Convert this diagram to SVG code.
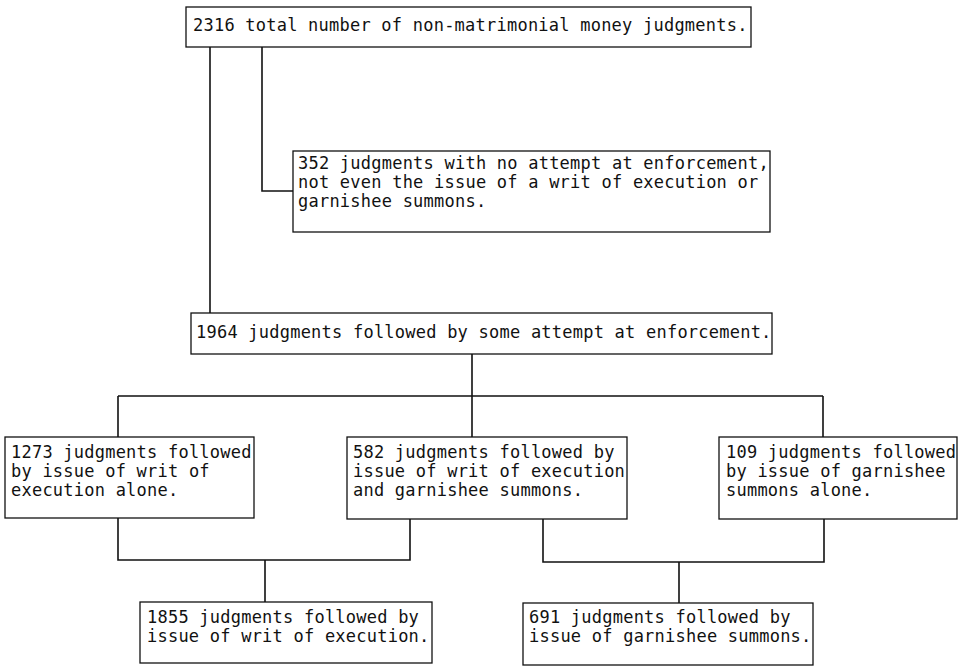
<svg xmlns="http://www.w3.org/2000/svg" width="967" height="666" viewBox="0 0 967 666">
<style>
.box{fill:#fff;stroke:#111;stroke-width:1.3}
.t{font-family:"DejaVu Sans Mono","Liberation Mono",monospace;font-size:17px;letter-spacing:0.23px;fill:#111}
.c{fill:none;stroke:#111;stroke-width:1.6}
</style>
<rect width="967" height="666" fill="#fff"/>
<g id="connectors">
<path class="c" d="M210,47V313"/>
<path class="c" d="M262,47V191H293"/>
<path class="c" d="M472,354V396M118,396H823M118,396V437M472,396V437M823,396V437"/>
<path class="c" d="M118,518V560H410V519M265,560V602"/>
<path class="c" d="M543,519V562H824V519M679,562V603"/>
</g>
<g id="n2316">
<rect class="box" x="186" y="7" width="565" height="40"/>
<text class="t" x="193" y="31">2316 total number of non-matrimonial money judgments.</text>
</g>
<g id="n352">
<rect class="box" x="293" y="151" width="477" height="81"/>
<text class="t" x="298" y="169">352 judgments with no attempt at enforcement,</text>
<text class="t" x="298" y="188">not even the issue of a writ of execution or</text>
<text class="t" x="298" y="207">garnishee summons.</text>
</g>
<g id="n1964">
<rect class="box" x="191" y="313" width="581" height="41"/>
<text class="t" x="196" y="338">1964 judgments followed by some attempt at enforcement.</text>
</g>
<g id="n1273">
<rect class="box" x="5" y="437" width="249" height="81"/>
<text class="t" x="11" y="458">1273 judgments followed</text>
<text class="t" x="11" y="477">by issue of writ of</text>
<text class="t" x="11" y="496">execution alone.</text>
</g>
<g id="n582">
<rect class="box" x="347" y="437" width="280" height="82"/>
<text class="t" x="353" y="458">582 judgments followed by</text>
<text class="t" x="353" y="477">issue of writ of execution</text>
<text class="t" x="353" y="496">and garnishee summons.</text>
</g>
<g id="n109">
<rect class="box" x="719" y="437" width="238" height="82"/>
<text class="t" x="726" y="458">109 judgments followed</text>
<text class="t" x="726" y="477">by issue of garnishee</text>
<text class="t" x="726" y="496">summons alone.</text>
</g>
<g id="n1855">
<rect class="box" x="140" y="602" width="292" height="61"/>
<text class="t" x="147" y="623">1855 judgments followed by</text>
<text class="t" x="147" y="642">issue of writ of execution.</text>
</g>
<g id="n691">
<rect class="box" x="523" y="603" width="290" height="62"/>
<text class="t" x="529" y="623">691 judgments followed by</text>
<text class="t" x="529" y="642">issue of garnishee summons.</text>
</g>
</svg>
